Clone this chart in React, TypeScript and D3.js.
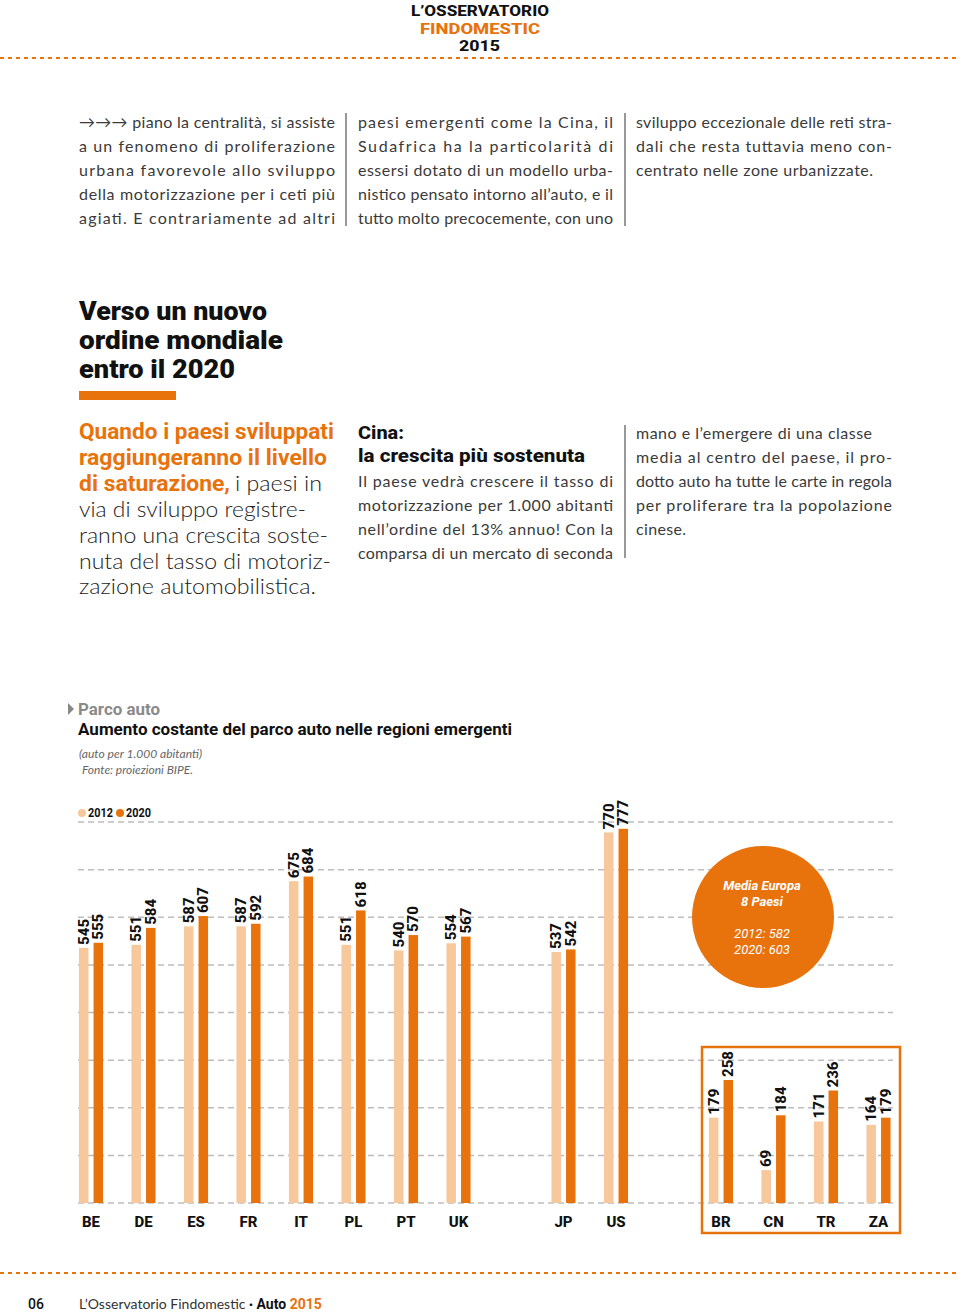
import React from "react";
import * as d3 from "d3";

const countries = ["BE", "DE", "ES", "FR", "IT", "PL", "PT", "UK", "JP", "US", "BR", "CN", "TR", "ZA"];
const values2012 = [545, 551, 587, 587, 675, 551, 540, 554, 537, 770, 179, 69, 171, 164];
const values2020 = [555, 584, 607, 592, 684, 618, 570, 567, 542, 777, 258, 184, 236, 179];
const emerging = ["BR", "CN", "TR", "ZA"];
const slotOrder = ["BE", "DE", "ES", "FR", "IT", "PL", "PT", "UK", "gap1", "JP", "US", "gap2", "BR", "CN", "TR", "ZA"];
const legendYears = ["2012", "2020"];
const europeAvg = [582, 603];

const LIGHT = "#f8c89d";
const ORANGE = "#e8720c";
const BODY = "#3a3a3a";
const SANS = "Lato, 'Open Sans', sans-serif";
const BOLD = "Roboto, 'Open Sans', sans-serif";

type LP = { x: number; y: number; w?: number; t: string; size?: number; weight?: number | string; fill?: string; family?: string; italic?: boolean; adj?: string };
const Line = ({ x, y, w, t, size = 16, weight = 400, fill = BODY, family = SANS, italic = false, adj = "spacingAndGlyphs" }: LP) => (
  <text
    x={x}
    y={y}
    fontSize={size}
    fontWeight={weight}
    fill={fill}
    fontFamily={family}
    fontStyle={italic ? "italic" : "normal"}
    textLength={w}
    lengthAdjust={w ? adj : undefined}
  >
    {t}
  </text>
);

export default function App() {
  const W = 960;
  const H = 1316;
  const baseY = 1203;

  const xPoint = d3.scalePoint<string>().domain(slotOrder).range([91, 878.5]);
  const yDev = d3.scaleLinear().domain([48, 800]).range([baseY, 817]);
  const yEm = d3.scaleLinear().domain([0, 258]).range([baseY, 1080]);
  const yGrid = d3.scaleLinear().domain([0, 8]).range([baseY, 822]);
  const gridLines = d3.range(9).map((i) => yGrid(i));

  const barW = 9.5;
  const off = 7.3;

  const bars = countries.map((c, i) => {
    const isEm = emerging.includes(c);
    const ys = isEm ? yEm : yDev;
    const cx = xPoint(c) as number;
    return { c, cx, v1: values2012[i], v2: values2020[i], y1: ys(values2012[i]), y2: ys(values2020[i]) };
  });

  const col1 = [
    "→→→ piano la centralità, si assiste",
    "a un fenomeno di proliferazione",
    "urbana favorevole allo sviluppo",
    "della motorizzazione per i ceti più",
    "agiati. E contrariamente ad altri",
  ];
  const col2 = [
    "paesi emergenti come la Cina, il",
    "Sudafrica ha la particolarità di",
    "essersi dotato di un modello urba-",
    "nistico pensato intorno all’auto, e il",
    "tutto molto precocemente, con uno",
  ];
  const col3 = [
    "sviluppo eccezionale delle reti stra-",
    "dali che resta tuttavia meno con-",
    "centrato nelle zone urbanizzate.",
  ];
  const cinaBody = [
    "Il paese vedrà crescere il tasso di",
    "motorizzazione per 1.000 abitanti",
    "nell’ordine del 13% annuo! Con la",
    "comparsa di un mercato di seconda",
  ];
  const col3b = [
    "mano e l’emergere di una classe",
    "media al centro del paese, il pro-",
    "dotto auto ha tutte le carte in regola",
    "per proliferare tra la popolazione",
    "cinese.",
  ];
  const col3bW = [236, 256, 256, 256, 50];
  const col3W = [256, 256, 237];

  const labelStyle = { fontSize: 15, fontWeight: 800, fontFamily: BOLD, fill: "#111" } as const;
  const LEAD = 21.5;

  return (
    <svg width={W} height={H} viewBox={`0 0 ${W} ${H}`} style={{ display: "block", position: "absolute", left: 0, top: 0, background: "#fff" }}>
      {/* Header */}
      <Line x={411} y={16} w={138} t="L’OSSERVATORIO" size={15.5} weight={800} fill="#111" family={BOLD} />
      <Line x={420} y={34} w={120} t="FINDOMESTIC" size={15.5} weight={800} fill={ORANGE} family={BOLD} />
      <Line x={459} y={51} w={41} t="2015" size={15.5} weight={800} fill="#111" family={BOLD} />
      <line x1={0} x2={960} y1={58} y2={58} stroke={ORANGE} strokeWidth={2} strokeDasharray="4 4" />

      {/* Top columns */}
      {col1.map((t, i) => (
        <Line key={"c1" + i} x={79} y={128 + i * 24} w={256} t={t} adj="spacing" />
      ))}
      <line x1={346} x2={346} y1={113} y2={226} stroke="#333" strokeWidth={1} />
      {col2.map((t, i) => (
        <Line key={"c2" + i} x={358} y={128 + i * 24} w={255} t={t} adj="spacing" />
      ))}
      <line x1={625} x2={625} y1={113} y2={226} stroke="#333" strokeWidth={1} />
      {col3.map((t, i) => (
        <Line key={"c3" + i} x={636} y={128 + i * 24} w={col3W[i]} t={t} adj="spacing" />
      ))}

      {/* Headline */}
      <Line x={79} y={320} w={188} t="Verso un nuovo" size={26} weight={900} fill="#111" family={BOLD} />
      <Line x={79} y={349} w={204} t="ordine mondiale" size={26} weight={900} fill="#111" family={BOLD} />
      <Line x={79} y={378} w={156} t="entro il 2020" size={26} weight={900} fill="#111" family={BOLD} />
      <rect x={79} y={391} width={97} height={9} fill={ORANGE} />

      {/* Lead */}
      <Line x={79} y={439} w={255} t="Quando i paesi sviluppati" size={LEAD} weight={700} fill={ORANGE} family={BOLD} />
      <Line x={79} y={465} w={248} t="raggiungeranno il livello" size={LEAD} weight={700} fill={ORANGE} family={BOLD} />
      <Line x={79} y={491} w={151} t="di saturazione," size={LEAD} weight={700} fill={ORANGE} family={BOLD} />
      <Line x={235} y={491} w={87} t="i paesi in" size={LEAD} weight={300} fill="#222" />
      <Line x={79} y={517} w={227} t="via di sviluppo registre-" size={LEAD} weight={300} fill="#222" />
      <Line x={79} y={543} w={249} t="ranno una crescita soste-" size={LEAD} weight={300} fill="#222" />
      <Line x={79} y={569} w={252} t="nuta del tasso di motoriz-" size={LEAD} weight={300} fill="#222" />
      <Line x={79} y={594} w={237} t="zazione automobilistica." size={LEAD} weight={300} fill="#222" />

      <Line x={358} y={439} w={46} t="Cina:" size={19} weight={800} fill="#111" family={BOLD} />
      <Line x={358} y={462} w={227} t="la crescita più sostenuta" size={19} weight={800} fill="#111" family={BOLD} />
      {cinaBody.map((t, i) => (
        <Line key={"cb" + i} x={358} y={487 + i * 24} w={255} t={t} adj="spacing" />
      ))}
      <line x1={625} x2={625} y1={425} y2={558} stroke="#333" strokeWidth={1} />
      {col3b.map((t, i) => (
        <Line key={"c3b" + i} x={636} y={439 + i * 24} w={col3bW[i]} t={t} adj="spacing" />
      ))}

      {/* Chart titles */}
      <path d="M68,703 L74,709 L68,715 Z" fill="#888" />
      <Line x={78} y={715} w={82} t="Parco auto" size={16} weight={700} fill="#8a8a8a" family={BOLD} />
      <Line x={78} y={735} w={434} t="Aumento costante del parco auto nelle regioni emergenti" size={17} weight={700} fill="#111" family={BOLD} />
      <Line x={79} y={758} w={123} t="(auto per 1.000 abitanti)" size={12} italic fill="#666" />
      <Line x={82} y={774} w={111} t="Fonte: proiezioni BIPE." size={12} italic fill="#666" />

      {/* Legend */}
      {legendYears.map((yr, i) => (
        <g key={yr}>
          <circle cx={82 + i * 38} cy={813} r={4} fill={i === 0 ? LIGHT : ORANGE} />
          <Line x={88 + i * 38} y={817} w={25} t={yr} size={12} weight={700} fill="#111" family={BOLD} />
        </g>
      ))}

      {/* Grid */}
      {gridLines.map((gy, i) => (
        <line key={"g" + i} x1={78} x2={893} y1={gy} y2={gy} stroke="#bdbdbd" strokeWidth={1.5} strokeDasharray="6 4" />
      ))}

      {/* Bars */}
      {bars.map((b) => (
        <g key={b.c}>
          <rect x={b.cx - off - barW / 2} y={b.y1} width={barW} height={baseY - b.y1} fill={LIGHT} />
          <rect x={b.cx + off - barW / 2} y={b.y2} width={barW} height={baseY - b.y2} fill={ORANGE} />
          <text transform={`translate(${b.cx - off},${b.y1 - 3}) rotate(-90)`} dominantBaseline="central" {...labelStyle}>
            {b.v1}
          </text>
          <text transform={`translate(${b.cx + off},${b.y2 - 3}) rotate(-90)`} dominantBaseline="central" {...labelStyle}>
            {b.v2}
          </text>
          <text x={b.cx} y={1227} textAnchor="middle" fontSize={15} fontWeight={800} fontFamily={BOLD} fill="#111">
            {b.c}
          </text>
        </g>
      ))}

      {/* Emerging box */}
      <rect x={702} y={1047} width={198} height={186} fill="none" stroke={ORANGE} strokeWidth={2.5} />

      {/* Europe average circle */}
      <circle cx={763} cy={917} r={71} fill={ORANGE} />
      <text x={762} y={890} textAnchor="middle" fontSize={13} fontWeight={700} fontStyle="italic" fontFamily={BOLD} fill="#fff">Media Europa</text>
      <text x={762} y={906} textAnchor="middle" fontSize={13} fontWeight={700} fontStyle="italic" fontFamily={BOLD} fill="#fff">8 Paesi</text>
      <text x={762} y={938} textAnchor="middle" fontSize={13} fontStyle="italic" fontFamily={BOLD} fill="#fff">{`${legendYears[0]}: ${europeAvg[0]}`}</text>
      <text x={762} y={954} textAnchor="middle" fontSize={13} fontStyle="italic" fontFamily={BOLD} fill="#fff">{`${legendYears[1]}: ${europeAvg[1]}`}</text>

      {/* Footer */}
      <line x1={0} x2={960} y1={1273} y2={1273} stroke={ORANGE} strokeWidth={2} strokeDasharray="4 4" />
      <text x={28} y={1309} fontSize={14} fontWeight={500} fontFamily={BOLD} fill="#111">06</text>
      <text x={79} y={1309} fontSize={14} fontFamily={SANS} fill="#333">
        L’Osservatorio Findomestic <tspan fontWeight={700} fill="#111">·</tspan>{" "}
        <tspan fontWeight={700} fill="#111" fontFamily={BOLD}>Auto</tspan>{" "}
        <tspan fontWeight={700} fill={ORANGE} fontFamily={BOLD}>2015</tspan>
      </text>
    </svg>
  );
}
